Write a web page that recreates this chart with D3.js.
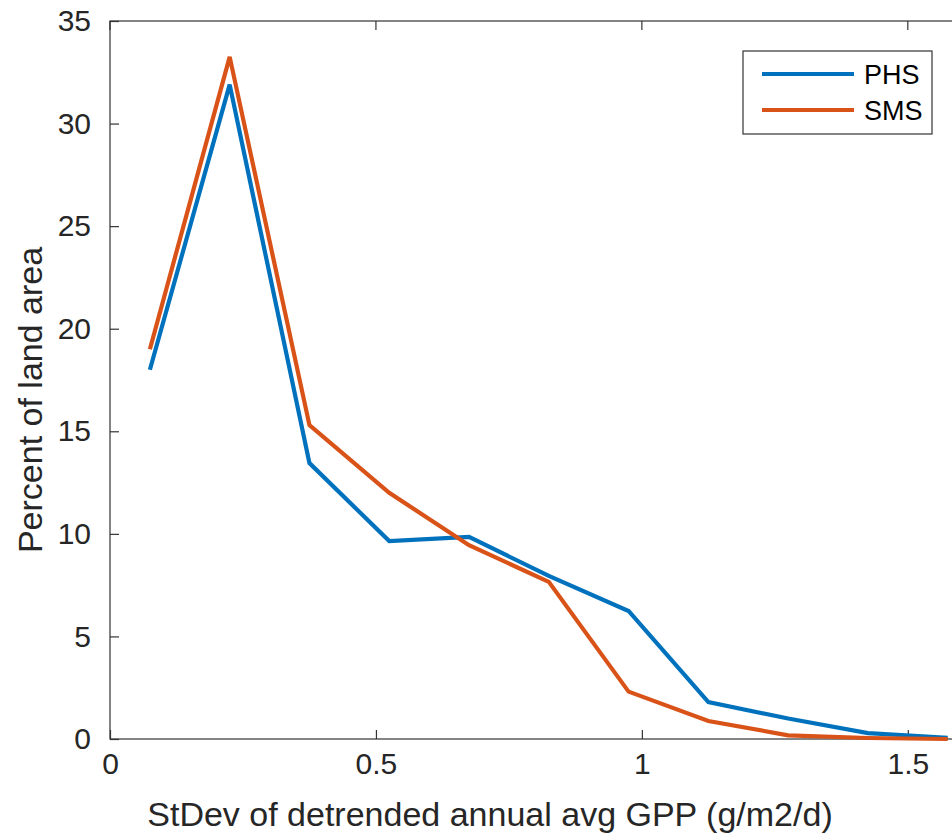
<!DOCTYPE html>
<html>
<head>
<meta charset="utf-8">
<script src="https://cdn.jsdelivr.net/npm/d3@7/dist/d3.min.js"></script>
<style>
  html, body { margin: 0; padding: 0; background: #fff; }
  svg { display: block; font-family: "Liberation Sans", Arial, Helvetica, sans-serif; }
</style>
</head>
<body>
<svg id="chart" width="952" height="833"></svg>
<script>
// Bin centres of the StDev histogram (g/m2/d)
const binCenters = [0.075, 0.225, 0.375, 0.525, 0.675, 0.825, 0.975, 1.125, 1.275, 1.425, 1.575];
// Percent of land area per bin
const phsValues = [18.0, 31.9, 13.45, 9.65, 9.85, 7.95, 6.24, 1.8, 1.0, 0.29, 0.06];
const smsValues = [19.0, 33.25, 15.3, 12.0, 9.45, 7.66, 2.31, 0.88, 0.18, 0.05, 0.0];
const seriesNames = ["PHS", "SMS"];
const seriesColors = ["#0072BD", "#D95319"];
const xTicks = [0, 0.5, 1, 1.5];
const yTicks = [0, 5, 10, 15, 20, 25, 30, 35];

(function () {
  const svg = d3.select("#chart");
  const plotL = 110, plotR = 961, plotT = 21, plotB = 739;
  const axisColor = "#333333";
  const tickLen = 9;

  const x = d3.scaleLinear().domain([0, 1.6]).range([plotL, plotR]);
  const y = d3.scaleLinear().domain([0, 35]).range([plotB, plotT]);

  // Box outline
  svg.append("rect")
    .attr("x", plotL).attr("y", plotT)
    .attr("width", plotR - plotL).attr("height", plotB - plotT)
    .attr("fill", "none").attr("stroke", axisColor).attr("stroke-width", 1.2);

  // Bottom axis with inward ticks
  const xAxis = d3.axisBottom(x).tickValues(xTicks).tickSizeInner(-tickLen).tickSizeOuter(0)
    .tickPadding(14).tickFormat(d3.format("~g"));
  const gx = svg.append("g").attr("transform", `translate(0,${plotB})`).call(xAxis);
  gx.select(".domain").remove();
  gx.selectAll(".tick line").attr("stroke", axisColor).attr("stroke-width", 1.2);
  gx.selectAll(".tick text").attr("fill", "#262626").attr("font-size", 30)
    .attr("font-family", "Liberation Sans, Arial, sans-serif");

  // Mirrored ticks on the top edge
  svg.append("g").selectAll("line").data(xTicks).join("line")
    .attr("x1", d => x(d)).attr("x2", d => x(d))
    .attr("y1", plotT).attr("y2", plotT + tickLen)
    .attr("stroke", axisColor).attr("stroke-width", 1.2);

  // Left axis with inward ticks
  const yAxis = d3.axisLeft(y).tickValues(yTicks).tickSizeInner(-tickLen).tickSizeOuter(0)
    .tickPadding(19);
  const gy = svg.append("g").attr("transform", `translate(${plotL},0)`).call(yAxis);
  gy.select(".domain").remove();
  gy.selectAll(".tick line").attr("stroke", axisColor).attr("stroke-width", 1.2);
  gy.selectAll(".tick text").attr("fill", "#262626").attr("font-size", 30)
    .attr("font-family", "Liberation Sans, Arial, sans-serif");

  // Mirrored ticks on the right edge
  svg.append("g").selectAll("line").data(yTicks).join("line")
    .attr("x1", plotR).attr("x2", plotR - tickLen)
    .attr("y1", d => y(d)).attr("y2", d => y(d))
    .attr("stroke", axisColor).attr("stroke-width", 1.2);

  // Series lines
  const line = d3.line().x((d, i) => x(binCenters[i])).y(d => y(d));
  [phsValues, smsValues].forEach((vals, k) => {
    svg.append("path").datum(vals)
      .attr("d", line)
      .attr("fill", "none")
      .attr("stroke", seriesColors[k])
      .attr("stroke-width", 4.2)
      .attr("stroke-linejoin", "miter");
  });

  // Axis titles
  svg.append("text")
    .attr("x", 490).attr("y", 826)
    .attr("text-anchor", "middle")
    .attr("font-size", 34).attr("fill", "#262626")
    .text("StDev of detrended annual avg GPP (g/m2/d)");

  svg.append("text")
    .attr("transform", "translate(42,400) rotate(-90)")
    .attr("text-anchor", "middle")
    .attr("font-size", 34).attr("fill", "#262626")
    .text("Percent of land area");

  // Legend
  const legend = svg.append("g");
  legend.append("rect")
    .attr("x", 743).attr("y", 51).attr("width", 189).attr("height", 83)
    .attr("fill", "#fff").attr("stroke", axisColor).attr("stroke-width", 1.2);
  seriesNames.forEach((name, k) => {
    const ly = 74 + k * 36;
    legend.append("line")
      .attr("x1", 762).attr("x2", 854).attr("y1", ly).attr("y2", ly)
      .attr("stroke", seriesColors[k]).attr("stroke-width", 4.2);
    legend.append("text")
      .attr("x", 864).attr("y", ly + 10)
      .attr("font-size", 27).attr("fill", "#000")
      .text(name);
  });
})();
</script>
</body>
</html>
